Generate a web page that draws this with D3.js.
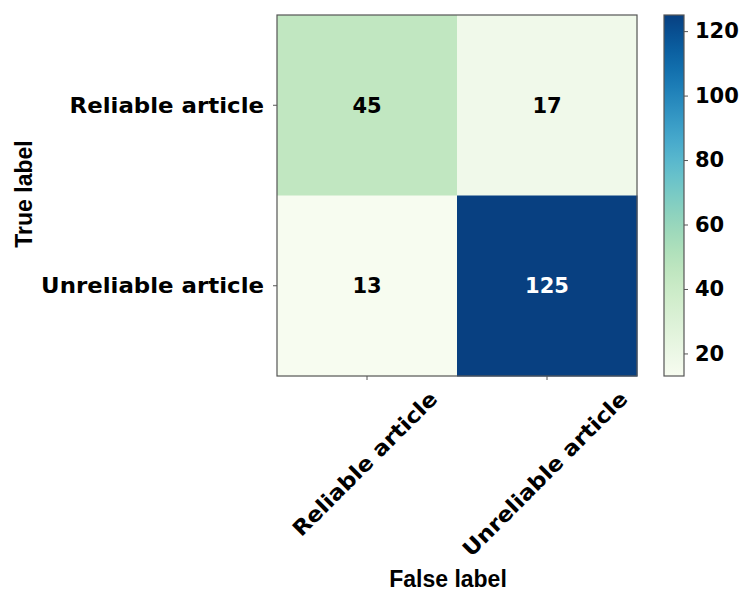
<!DOCTYPE html>
<html><head><meta charset="utf-8">
<script src="https://cdn.jsdelivr.net/npm/d3@7"></script>
<style>body{margin:0;background:#fff}svg text{font-family:"DejaVu Sans",sans-serif;font-weight:bold}</style>
</head><body><svg id="c" width="743" height="593"></svg>
<script>
const trueLabels = ["Reliable article", "Unreliable article"];
const predLabels = ["Reliable article", "Unreliable article"];
const matrix = [[45, 17], [13, 125]];
const cbTicks = [20, 40, 60, 80, 100, 120];
const vmin = 13, vmax = 125;

const svg = d3.select("#c");
const pL = 277, pR = 637, pT = 15, pB = 376;
const x = d3.scaleBand().domain(d3.range(predLabels.length)).range([pL, pR]);
const y = d3.scaleBand().domain(d3.range(trueLabels.length)).range([pT, pB]);
const color = d3.scaleSequential(d3.interpolateGnBu).domain([vmin, vmax]);
const FS = 21, SX = 1.09;

const cells = [];
matrix.forEach((row, i) => row.forEach((v, j) => cells.push({i, j, v})));
svg.selectAll("rect.cell").data(cells).join("rect").attr("class", "cell")
  .attr("x", d => x(d.j)).attr("y", d => y(d.i))
  .attr("width", x.bandwidth() + 0.5).attr("height", y.bandwidth() + 0.5)
  .attr("fill", d => color(d.v));
const thresh = d3.max(cells, d => d.v) / 2;
svg.selectAll("text.val").data(cells).join("text").attr("class", "val")
  .attr("x", d => x(d.j) + x.bandwidth() / 2).attr("y", d => y(d.i) + y.bandwidth() / 2)
  .attr("text-anchor", "middle").attr("dy", "0.36em").attr("font-size", FS)
  .attr("fill", d => d.v > thresh ? "#fff" : "#000").text(d => d.v);
svg.append("rect").attr("x", pL).attr("y", pT).attr("width", pR - pL).attr("height", pB - pT)
  .attr("fill", "none").attr("stroke", "#555").attr("stroke-width", 1.2);

// y ticks
trueLabels.forEach((t, i) => {
  const yc = y(i) + y.bandwidth() / 2;
  svg.append("line").attr("x1", pL - 4).attr("x2", pL).attr("y1", yc).attr("y2", yc).attr("stroke", "#555");
  svg.append("text").attr("transform", `translate(264,${yc}) scale(${SX},1)`).attr("dy", "0.36em").attr("text-anchor", "end")
    .attr("font-size", FS).text(t);
});
// x ticks
predLabels.forEach((t, j) => {
  const xc = x(j) + x.bandwidth() / 2;
  svg.append("line").attr("x1", xc).attr("x2", xc).attr("y1", pB).attr("y2", pB + 4).attr("stroke", "#555");
  const tx = svg.append("text").attr("text-anchor", "middle").attr("dominant-baseline", "central")
    .attr("font-size", FS).text(t);
  const w = tx.node().getComputedTextLength() * SX;
  const h = FS * 0.95;
  const bh = (w + h) * Math.SQRT1_2;
  tx.attr("transform", `translate(${xc - 2},${388 + bh / 2}) rotate(-45) scale(${SX},1)`);
});
svg.append("text").attr("x", 448).attr("y", 587).attr("text-anchor", "middle")
  .style("font-family", "'Liberation Sans', Arial, sans-serif").attr("font-size", 23).text("False label");
svg.append("text").attr("transform", "translate(32,194) rotate(-90)").attr("text-anchor", "middle")
  .style("font-family", "'Liberation Sans', Arial, sans-serif").attr("font-size", 23).text("True label");

// colorbar
const cbx = 664, cbw = 20;
const cy = d3.scaleLinear().domain([vmin, vmax]).range([pB, pT]);
const grad = svg.append("defs").append("linearGradient").attr("id", "g").attr("x1", 0).attr("y1", 1).attr("x2", 0).attr("y2", 0);
d3.range(0, 1.0001, 0.05).forEach(t => grad.append("stop").attr("offset", t).attr("stop-color", color(vmin + t * (vmax - vmin))));
svg.append("rect").attr("x", cbx).attr("y", pT).attr("width", cbw).attr("height", pB - pT)
  .attr("fill", "url(#g)").attr("stroke", "#555").attr("stroke-width", 1.2);
const ax = svg.append("g").attr("transform", `translate(${cbx + cbw},0)`)
  .call(d3.axisRight(cy).tickValues(cbTicks).tickSize(4).tickPadding(7));
ax.select(".domain").remove();
ax.selectAll("line").attr("stroke", "#555");
ax.selectAll("text").attr("font-size", FS).attr("font-family", "DejaVu Sans").attr("font-weight", "bold").attr("fill", "#000");
</script></body></html>
